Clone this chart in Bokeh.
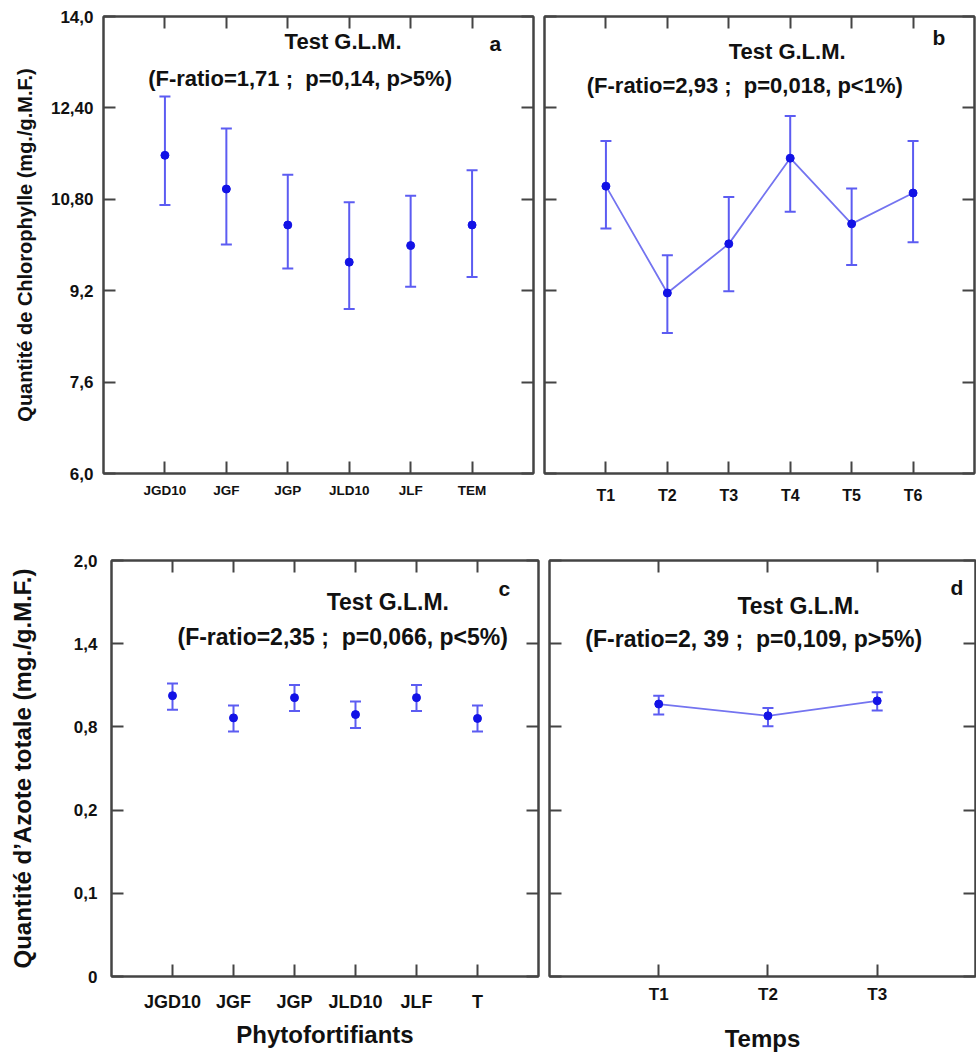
from bokeh.plotting import figure
from bokeh.models import (ColumnDataSource, Whisker, TeeHead, Label, LinearAxis,
                          FixedTicker, Range1d, CustomLabelingPolicy)
from bokeh.layouts import column, row
from bokeh.embed import file_html
from bokeh.resources import INLINE

# ---------------- data ----------------
cats_a = ["JGD10", "JGF", "JGP", "JLD10", "JLF", "TEM"]
mean_a = [11.57, 10.98, 10.35, 9.70, 9.99, 10.35]
upper_a = [12.60, 12.04, 11.23, 10.75, 10.86, 11.31]
lower_a = [10.70, 10.01, 9.59, 8.88, 9.27, 9.44]

cats_b = ["T1", "T2", "T3", "T4", "T5", "T6"]
mean_b = [11.03, 9.16, 10.02, 11.52, 10.37, 10.91]
upper_b = [11.82, 9.82, 10.84, 12.26, 10.99, 11.82]
lower_b = [10.29, 8.46, 9.19, 10.58, 9.65, 10.05]

cats_c = ["JGD10", "JGF", "JGP", "JLD10", "JLF", "T"]
mean_c = [1.025, 0.865, 1.011, 0.889, 1.011, 0.861]
upper_c = [1.113, 0.955, 1.103, 0.983, 1.103, 0.955]
lower_c = [0.924, 0.766, 0.915, 0.792, 0.915, 0.766]

cats_d = ["T1", "T2", "T3"]
mean_d = [0.965, 0.880, 0.988]
upper_d = [1.024, 0.937, 1.050]
lower_d = [0.889, 0.805, 0.919]

yticks_chl = [6.0, 7.6, 9.2, 10.8, 12.4, 14.0]
ylabels_chl = ["6,0", "7,6", "9,2", "10,80", "12,40", "14,0"]
yticks_az = [-1.0, -0.4, 0.2, 0.8, 1.4, 2.0]
ylabels_az = ["0", "0,1", "0,2", "0,8", "1,4", "2,0"]

titles = ["Test G.L.M."] * 4
stats = ["(F-ratio=1,71 ; \u00a0p=0,14, p>5%)",
         "(F-ratio=2,93 ; \u00a0p=0,018, p<1%)",
         "(F-ratio=2,35 ; \u00a0p=0,066, p<5%)",
         "(F-ratio=2, 39 ; \u00a0p=0,109, p>5%)"]
letters = ["a", "b", "c", "d"]

FONT = "Liberation Sans"
FRAME = "#444444"
BAR = "#5c5cf2"
DOT = "#1212e6"
LINE = "#7474f0"

HIDE_CODE = """
try { indices.clear() } catch (e) { for (const i of [...indices]) indices.unset(i) }
return indices
"""


def hide_labels(ax):
    ax.major_label_policy = CustomLabelingPolicy(code=HIDE_CODE)
    ax.major_label_text_font_size = "0px"
    ax.major_label_standoff = 0


def style_ticks(ax):
    ax.major_tick_in = 12
    ax.major_tick_out = 0
    ax.minor_tick_line_color = None
    ax.axis_line_color = FRAME
    ax.axis_line_width = 2
    ax.major_tick_line_color = FRAME
    ax.major_tick_line_width = 2


def panel(idx, width, height, borders, xr, yr, cats, means, uppers, lowers, connect,
          yticks, ylabels, show_ylabels, ytick_size, xtick_size, xtick_standoff,
          ytick_standoff, ylabel, ylabel_size, ylabel_standoff, xlabel, xlabel_size,
          xlabel_standoff, texts, text_size, letter_size):
    l, r, t, b = borders
    p = figure(width=width, height=height, output_backend="svg", toolbar_location=None,
               x_range=Range1d(*xr), y_range=Range1d(*yr),
               min_border_left=l, min_border_right=r, min_border_top=t,
               min_border_bottom=b)
    p.xgrid.visible = False
    p.ygrid.visible = False
    p.outline_line_color = FRAME
    p.outline_line_width = 2
    p.background_fill_color = "white"
    p.border_fill_color = "white"

    xs = list(range(1, len(cats) + 1))
    xover = {x: c for x, c in zip(xs, cats)}
    yover = {v: s for v, s in zip(yticks, ylabels)}

    # bottom axis
    xa = p.xaxis[0]
    xa.ticker = FixedTicker(ticks=xs)
    xa.major_label_overrides = xover
    style_ticks(xa)
    xa.major_label_text_font = FONT
    xa.major_label_text_font_style = "bold"
    xa.major_label_text_font_size = xtick_size
    xa.major_label_text_color = "#111111"
    xa.major_label_standoff = xtick_standoff
    if xlabel:
        xa.axis_label = xlabel
        xa.axis_label_text_font = FONT
        xa.axis_label_text_font_style = "bold"
        xa.axis_label_text_font_size = xlabel_size
        xa.axis_label_text_color = "#111111"
        xa.axis_label_standoff = xlabel_standoff

    # left axis
    ya = p.yaxis[0]
    ya.ticker = FixedTicker(ticks=yticks)
    ya.major_label_overrides = yover
    style_ticks(ya)
    if show_ylabels:
        ya.major_label_text_font = FONT
        ya.major_label_text_font_style = "bold"
        ya.major_label_text_font_size = ytick_size
        ya.major_label_text_color = "#111111"
        ya.major_label_standoff = ytick_standoff
    else:
        hide_labels(ya)
    if ylabel:
        ya.axis_label = ylabel
        ya.axis_label_text_font = FONT
        ya.axis_label_text_font_style = "bold"
        ya.axis_label_text_font_size = ylabel_size
        ya.axis_label_text_color = "#111111"
        ya.axis_label_standoff = ylabel_standoff

    # mirrored axes (ticks only)
    top = LinearAxis(ticker=FixedTicker(ticks=xs))
    right = LinearAxis(ticker=FixedTicker(ticks=yticks))
    for ax in (top, right):
        style_ticks(ax)
        hide_labels(ax)
    p.add_layout(top, "above")
    p.add_layout(right, "right")

    src = ColumnDataSource(dict(x=xs, m=means, up=uppers, lo=lowers))
    w = Whisker(base="x", upper="up", lower="lo", source=src,
                line_color=BAR, line_width=2,
                upper_head=TeeHead(size=11, line_color=BAR, line_width=2),
                lower_head=TeeHead(size=11, line_color=BAR, line_width=2))
    p.add_layout(w)
    if connect:
        p.line("x", "m", source=src, line_color=LINE, line_width=1.8)
    p.scatter("x", "m", source=src, size=8, color=DOT, line_color=DOT)

    (tx, ty), (sx, sy), (lx, ly) = texts
    for (x, y, txt, size) in ((tx, ty, titles[idx], text_size),
                              (sx, sy, stats[idx], text_size),
                              (lx, ly, letters[idx], letter_size)):
        p.add_layout(Label(x=x, y=y, text=txt, text_font=FONT,
                           text_font_style="bold", text_font_size=size,
                           text_align="center", text_baseline="middle",
                           text_color="#111111"))
    return p


pa = panel(0, 539, 530, (103, 6, 13, 57), (0, 7), (6, 14), cats_a, mean_a, upper_a, lower_a,
           False, yticks_chl, ylabels_chl, True, "17px", "13.5px", 9, 10,
           "Quantité de Chlorophylle (mg./g.M.F.)", "20px", 12, None, None, 0,
           ((3.90, 13.56), (3.20, 12.91), (6.38, 13.52)), "22px", "21px")
pb = panel(1, 437, 530, (5, 2, 16, 57), (0, 7), (6, 14), cats_b, mean_b, upper_b, lower_b,
           True, yticks_chl, ylabels_chl, False, "17px", "16px", 13, 10,
           None, None, 0, None, None, 0,
           ((3.95, 13.39), (3.26, 12.79), (6.42, 13.63)), "22px", "21px")
pc = panel(2, 544, 524, (111, 6, 30, 72), (0, 7), (-1.0, 2.0), cats_c, mean_c, upper_c, lower_c,
           False, yticks_az, ylabels_az, True, "17px", "18px", 15, 14,
           "Quantité d\u2019Azote totale (mg./g.M.F.)", "24px", 35,
           "Phytofortifiants", "24px", 6,
           ((4.53, 1.70), (3.79, 1.447), (6.44, 1.796)), "23px", "21px")
pd_ = panel(3, 432, 524, (5, 1, 29, 71), (0, 3.9), (-1.0, 2.0), cats_d, mean_d, upper_d, lower_d,
            True, yticks_az, ylabels_az, False, "17px", "17px", 8, 10,
            None, None, 0, "Temps", "24px", 18,
            ((2.28, 1.675), (1.87, 1.434), (3.73, 1.805)), "23px", "21px")

layout = column(row(pa, pb), row(pc, pd_))

with open("out.html", "w") as f:
    f.write(file_html(layout, INLINE))
